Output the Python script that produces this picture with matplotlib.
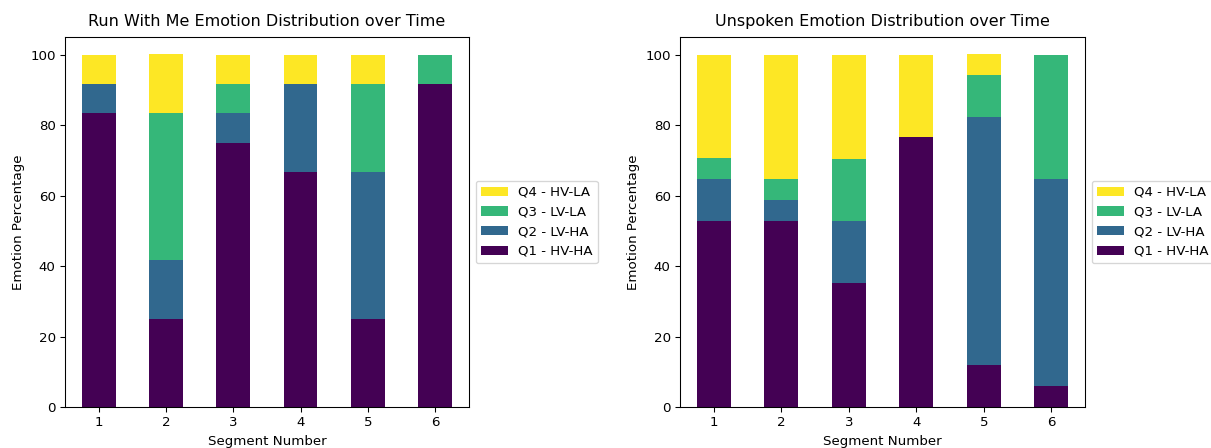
import matplotlib
matplotlib.use("Agg")
import matplotlib.pyplot as plt
import numpy as np

segments = [1, 2, 3, 4, 5, 6]
labels = ["Q1 - HV-HA", "Q2 - LV-HA", "Q3 - LV-LA", "Q4 - HV-LA"]
colors = ["#440154", "#31688e", "#35b779", "#fde725"]

# Run With Me
rwm_q1 = [83.3, 25.0, 75.0, 66.7, 25.0, 91.7]
rwm_q2 = [8.3, 16.7, 8.3, 25.0, 41.7, 0.0]
rwm_q3 = [0.0, 41.7, 8.3, 0.0, 25.0, 8.3]
rwm_q4 = [8.3, 16.7, 8.3, 8.3, 8.3, 0.0]

# Unspoken
uns_q1 = [52.9, 52.9, 35.3, 76.5, 11.8, 5.9]
uns_q2 = [11.8, 5.9, 17.6, 0.0, 70.6, 58.8]
uns_q3 = [5.9, 5.9, 17.6, 0.0, 11.8, 35.3]
uns_q4 = [29.4, 35.3, 29.4, 23.5, 5.9, 0.0]

fig = plt.figure(figsize=(1211 / 96, 448 / 96), dpi=96)
ax1 = fig.add_axes([0.0537, 0.0915, 0.3335, 0.826])
ax2 = fig.add_axes([0.5615, 0.0915, 0.3345, 0.826])


def draw(ax, series, title):
    x = np.arange(len(segments))
    bottom = np.zeros(len(segments))
    for vals, lab, col in zip(series, labels, colors):
        ax.bar(x, vals, 0.5, bottom=bottom, color=col, label=lab)
        bottom += np.array(vals)
    ax.set_xticks(x)
    ax.set_xticklabels([str(s) for s in segments])
    ax.set_xlim(-0.5, len(segments) - 0.5)
    ax.set_ylim(0, 105)
    ax.set_title(title, pad=8)
    ax.set_xlabel("Segment Number")
    ax.set_ylabel("Emotion Percentage")
    h, l = ax.get_legend_handles_labels()
    ax.legend(h[::-1], l[::-1], loc="center left", bbox_to_anchor=(1, 0.5))


draw(ax1, [rwm_q1, rwm_q2, rwm_q3, rwm_q4], "Run With Me Emotion Distribution over Time")
draw(ax2, [uns_q1, uns_q2, uns_q3, uns_q4], "Unspoken Emotion Distribution over Time")

fig.savefig("out.png", dpi=96)
